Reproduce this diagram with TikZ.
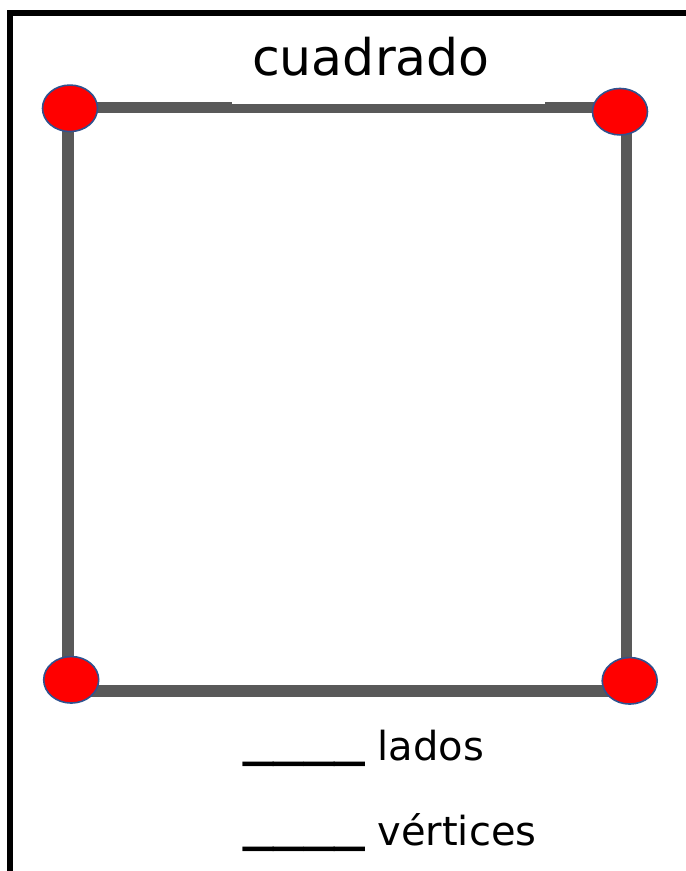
\documentclass[tikz,border=0pt]{standalone}
\usepackage{fontspec}
\setmainfont{DejaVu Sans}
\usetikzlibrary{shapes.geometric}
\definecolor{sqgray}{HTML}{595959}
\definecolor{dotred}{HTML}{FF0000}
\definecolor{dotblue}{HTML}{2F528F}
\tikzset{
  vertexdot/.style={ellipse, fill=dotred, draw=dotblue, line width=1.6pt,
    minimum width=55pt, minimum height=46.5pt, inner sep=0pt},
  side/.style={draw=sqgray, line width=11.5pt},
  labeltext/.style={anchor=base west, inner sep=0pt, font=\fontsize{40}{40}\selectfont}
}
\newcommand{\blanks}{\raisebox{8.5pt}{\scalebox{1.52}[1.6]{\_\_\_\_}}}
\begin{document}
\begin{tikzpicture}[x=1pt,y=-1pt]
\useasboundingbox (0,0) rectangle (686,871);
\begin{scope}
\clip (0,0) rectangle (686,871);
\draw[line width=6pt] (9.7,12.8) rectangle (720,900);
\end{scope}
% square sides
\coordinate (tl) at (68,107.5);
\coordinate (tr) at (626.7,107.5);
\coordinate (br) at (626.7,691);
\coordinate (bl) at (68,691);
\draw[side] (tl) -- (tr) -- (br) -- (bl) -- cycle;
% title with white text box
\node[fill=white, inner sep=0pt, text width=313pt, align=left, text height=57pt, text depth=29.3pt,
  anchor=base west, font=\fontsize{50.5}{51}\selectfont] (title) at (232,75) {\hspace*{20pt}cuadrado};
% vertices
\node[vertexdot] (v1) at (70,108.3) {};
\node[vertexdot] (v2) at (620,111.7) {};
\node[vertexdot] (v3) at (71.2,679.8) {};
\node[vertexdot] (v4) at (629.7,680.8) {};
% answer lines
\node[labeltext] (lados) at (243,760) {\blanks\ lados};
\node[labeltext] (vert) at (243,845) {\blanks\ vértices};
\end{tikzpicture}
\end{document}
